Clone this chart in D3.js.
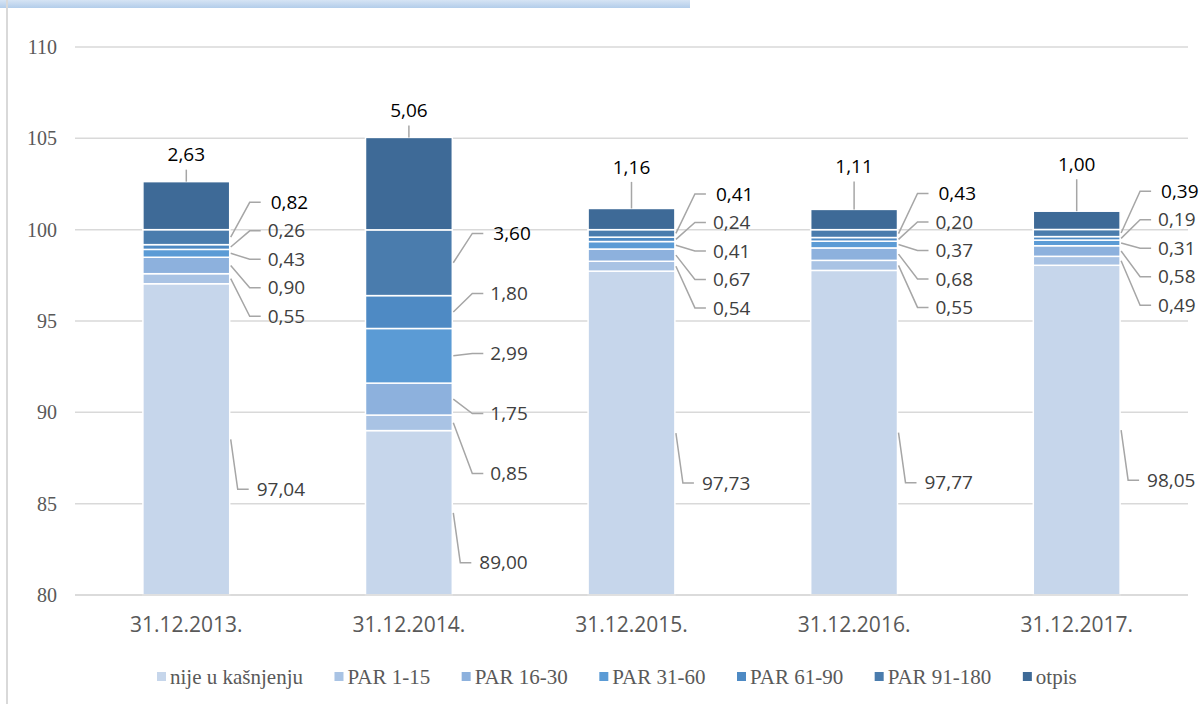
<!DOCTYPE html>
<html><head><meta charset="utf-8">
<script src="https://cdn.jsdelivr.net/npm/d3@7"></script>
<style>html,body{margin:0;padding:0;background:#fff;}svg{display:block;}
.serif{font-family:"Liberation Serif","Times New Roman",serif;}
</style>
</head><body>
<svg id="c" width="1203" height="704"></svg>
<script>
const categories = ["31.12.2013.", "31.12.2014.", "31.12.2015.", "31.12.2016.", "31.12.2017."];
const seriesNames = ["nije u kašnjenju", "PAR 1-15", "PAR 16-30", "PAR 31-60", "PAR 61-90", "PAR 91-180", "otpis"];
const nijeUKasnjenju = [97.04, 89.00, 97.73, 97.77, 98.05];
const par1_15 = [0.55, 0.85, 0.54, 0.55, 0.49];
const par16_30 = [0.90, 1.75, 0.67, 0.68, 0.58];
const par31_60 = [0.43, 2.99, 0.41, 0.37, 0.31];
const par61_90 = [0.26, 1.80, 0.24, 0.20, 0.19];
const par91_180 = [0.82, 3.60, 0.41, 0.43, 0.39];
const otpis = [2.63, 5.06, 1.16, 1.11, 1.00];
const yTicks = [80, 85, 90, 95, 100, 105, 110];

(function () {
const seriesValues = [nijeUKasnjenju, par1_15, par16_30, par31_60, par61_90, par91_180, otpis];
const colors = ["#C6D6EB", "#A9C3E4", "#8DB1DD", "#5B9BD5", "#4E8AC4", "#4A7CAD", "#3E6A97"];

const svg = d3.select("#c");
const W = 1203, H = 704;

const defs = svg.append("defs");
const g1 = defs.append("linearGradient").attr("id","bn").attr("x1","0").attr("x2","0").attr("y1","0").attr("y2","1");
g1.append("stop").attr("offset","0").attr("stop-color","#d6e4f4");
g1.append("stop").attr("offset","1").attr("stop-color","#b3cdea");
svg.append("rect").attr("x",0).attr("y",0).attr("width",690).attr("height",8).attr("fill","url(#bn)");
svg.append("line").attr("x1",7).attr("x2",7).attr("y1",0).attr("y2",H).attr("stroke","#d9d9d9").attr("stroke-width",2);

const pLeft = 75, pRight = 1188, pTop = 47, pBottom = 595;
const x = d3.scaleBand().domain(categories).range([pLeft, pRight]).paddingInner(0.61).paddingOuter(0.305);
const y = d3.scaleLinear().domain([80, 110]).range([pBottom, pTop]);

svg.append("g").selectAll("line").data(yTicks).join("line")
  .attr("x1", pLeft).attr("x2", pRight)
  .attr("y1", d => y(d)).attr("y2", d => y(d))
  .attr("stroke", "#d9d9d9").attr("stroke-width", 1.5);

const yAxis = d3.axisLeft(y).tickValues(yTicks).tickSize(0).tickPadding(0).tickFormat(d3.format("d"));
const ya = svg.append("g").attr("transform", `translate(57,0)`).call(yAxis);
ya.attr("font-family", null).attr("font-size", null);
ya.select(".domain").remove();
ya.selectAll("text").attr("class", "serif")
  .style("font-size", "20px").attr("fill", "#595959");

const rows = categories.map((c, i) => {
  let acc = 80;
  const segs = seriesValues.map((arr, s) => {
    const y0 = s === 0 ? 80 : acc;
    const y1 = s === 0 ? arr[i] : acc + arr[i];
    acc = y1;
    return {s, v: arr[i], y0, y1};
  });
  return {c, i, segs};
});

const bars = svg.append("g");
rows.forEach(r => {
  bars.append("g").selectAll("rect").data(r.segs).join("rect")
    .attr("x", x(r.c)).attr("width", x.bandwidth())
    .attr("y", d => y(d.y1)).attr("height", d => y(d.y0) - y(d.y1))
    .attr("fill", d => colors[d.s])
    .attr("stroke", "#fff").attr("stroke-width", 1.5);
});

svg.append("line").attr("x1", pLeft).attr("x2", pRight).attr("y1", y(80)).attr("y2", y(80))
  .attr("stroke", "#d9d9d9").attr("stroke-width", 1.5);

const xa = svg.append("g").attr("transform", `translate(0,${pBottom})`)
  .call(d3.axisBottom(x).tickSize(0).tickPadding(22));
xa.select(".domain").remove();
xa.selectAll("text").attr("font-family", "'Open Sans', sans-serif").attr("font-size", 21).attr("fill", "#595959");

const fmt = v => v.toFixed(2).replace(".", ",");
const labFont = "'Open Sans', sans-serif";
const lab = svg.append("g");
const leaderColor = "#a6a6a6";
rows.forEach(r => {
  const xr = x(r.c) + x.bandwidth();
  const xc = x(r.c) + x.bandwidth() / 2;
  const n = r.segs[0];
  const nm = (y(n.y0) + y(n.y1)) / 2;
  const ny = nm + 50;
  lab.append("path").attr("d", `M${xr + 1},${nm} L${xr + 8},${ny} L${xr + 19},${ny}`)
    .attr("fill", "none").attr("stroke", leaderColor).attr("stroke-width", 1.5);
  lab.append("text").attr("x", xr + 27).attr("y", ny).attr("dy", "0.35em").text(fmt(n.v))
    .attr("font-family", labFont).attr("font-size", 19).attr("fill", "#404040");
  const mids = r.segs.slice(1, 6).map(d => (y(d.y0) + y(d.y1)) / 2);
  const center = d3.mean(mids) + 3;
  const spread = mids[0] - mids[4];
  const spacing = Math.max(28.5, 1.5 * spread / 4);
  const ys = mids.map((m, k) => center + (2 - k) * spacing);
  r.segs.slice(1, 6).forEach((d, k) => {
    const ly = ys[k];
    lab.append("path").attr("d", `M${xr + 1},${mids[k]} L${xr + 20},${ly} L${xr + 31},${ly}`)
      .attr("fill", "none").attr("stroke", leaderColor).attr("stroke-width", 1.5);
    lab.append("text").attr("x", xr + 38 + (k === 4 ? 3 : 0)).attr("y", ly).attr("dy", "0.35em").text(fmt(d.v))
      .attr("font-family", labFont).attr("font-size", 19)
      .attr("fill", k === 4 ? "#000" : "#404040");
  });
  const o = r.segs[6];
  const barTop = y(o.y1);
  const oy = Math.min(barTop - 27, ys[4] - 27);
  if (barTop - (oy + 15) > 5) {
    lab.append("line").attr("x1", xc).attr("x2", xc).attr("y1", barTop).attr("y2", oy + 15)
      .attr("stroke", leaderColor).attr("stroke-width", 1.5);
  }
  lab.append("text").attr("x", xc).attr("y", oy).attr("dy", "0.35em").attr("text-anchor", "middle")
    .text(fmt(o.v)).attr("font-family", labFont).attr("font-size", 19).attr("fill", "#000");
});

// legend: flowing layout measured from text widths
const leg = svg.append("g");
let lx = 157;
seriesNames.forEach((name, s) => {
  const gx = leg.append("g").attr("transform", `translate(${lx},677)`);
  gx.append("rect").attr("x", 0).attr("y", -5).attr("width", 9).attr("height", 9).attr("fill", colors[s]);
  const t = gx.append("text").attr("class", "serif").attr("x", 13).attr("y", 0).attr("dy", "0.33em").text(name)
    .style("font-size", "21px").attr("fill", "#595959");
  lx += 13 + t.node().getComputedTextLength() + 31.5;
});
})();
</script>
</body></html>
